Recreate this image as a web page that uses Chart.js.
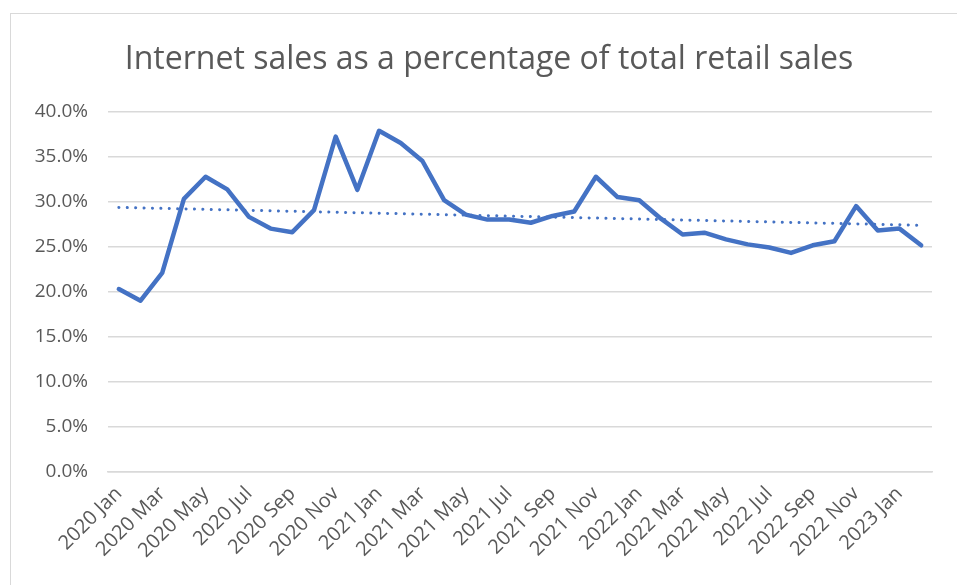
<!DOCTYPE html>
<html>
<head>
<meta charset="utf-8">
<script src="https://cdn.jsdelivr.net/npm/chart.js@4"></script>
<style>
  html, body { margin: 0; padding: 0; background: #fff; overflow: hidden; }
  #frame { position: absolute; left: 10px; top: 13px; width: 1000px; height: 700px; border: 1px solid #d9d9d9; }
  #wrap { position: absolute; left: 0; top: 0; width: 957px; height: 585px; }
</style>
</head>
<body>
<div id="frame"></div>
<div id="wrap"><canvas id="chartSales"></canvas></div>
<script>
// Months, Jan 2020 .. Feb 2023
const months = [
  '2020 Jan', '2020 Feb', '2020 Mar', '2020 Apr', '2020 May', '2020 Jun',
  '2020 Jul', '2020 Aug', '2020 Sep', '2020 Oct', '2020 Nov', '2020 Dec',
  '2021 Jan', '2021 Feb', '2021 Mar', '2021 Apr', '2021 May', '2021 Jun',
  '2021 Jul', '2021 Aug', '2021 Sep', '2021 Oct', '2021 Nov', '2021 Dec',
  '2022 Jan', '2022 Feb', '2022 Mar', '2022 Apr', '2022 May', '2022 Jun',
  '2022 Jul', '2022 Aug', '2022 Sep', '2022 Oct', '2022 Nov', '2022 Dec',
  '2023 Jan', '2023 Feb'
];

// Internet sales share of retail, percent
const internetShare = [
  20.3, 19.0, 22.1, 30.3, 32.75, 31.35, 28.3, 27.0, 26.6, 29.05, 37.2, 31.3,
  37.85, 36.5, 34.5, 30.15, 28.55, 28.0, 28.0, 27.65, 28.4, 28.9, 32.75, 30.5,
  30.15, 28.1, 26.35, 26.55, 25.8, 25.25, 24.9, 24.3, 25.15, 25.6, 29.5, 26.8,
  27.0, 25.15
];

const yTicks = [0, 5, 10, 15, 20, 25, 30, 35, 40];

// Linear trend line (least squares) from the data above
function linearTrend(values) {
  const n = values.length;
  let sx = 0, sy = 0, sxy = 0, sxx = 0;
  values.forEach((v, i) => { sx += i; sy += v; sxy += i * v; sxx += i * i; });
  const slope = (n * sxy - sx * sy) / (n * sxx - sx * sx);
  const icpt = (sy - slope * sx) / n;
  return values.map((_, i) => icpt + slope * i);
}

const textColor = '#595959';
const gridColor = '#d9d9d9';
const blue = '#4472C4';
const fontFamily = "'Open Sans', 'Noto Sans', sans-serif";

new Chart(document.getElementById('chartSales').getContext('2d'), {
  type: 'line',
  data: {
    labels: months,
    datasets: [{
      label: 'Internet share',
      data: internetShare,
      borderColor: blue,
      borderWidth: 4.5,
      pointRadius: 0,
      tension: 0,
      borderJoinStyle: 'round',
      borderCapStyle: 'round',
      fill: false
    }, {
      label: 'Trend',
      data: linearTrend(internetShare),
      borderColor: blue,
      borderWidth: 3,
      borderDash: [0.1, 8.3],
      borderCapStyle: 'round',
      pointRadius: 0,
      fill: false
    }]
  },
  options: {
    responsive: true,
    maintainAspectRatio: false,
    animation: false,
    layout: { padding: { left: 21, right: 0, top: 0, bottom: 0 } },
    plugins: {
      legend: { display: false },
      tooltip: { enabled: false },
      title: {
        display: true,
        text: 'Internet sales as a percentage of total retail sales',
        color: textColor,
        font: { family: fontFamily, size: 32, weight: 'normal' },
        padding: { top: 41, bottom: 32 }
      }
    },
    scales: {
      x: {
        offset: true,
        grid: { display: false, drawTicks: false },
        border: { display: true, color: gridColor, width: 1.5 },
        afterFit: (s) => { s.height = 113; },
        ticks: {
          autoSkip: false,
          maxRotation: 45,
          minRotation: 45,
          padding: 10,
          color: textColor,
          font: { family: fontFamily, size: 20 },
          callback: (v, i) => (i % 2 === 0 ? months[i] : '')
        }
      },
      y: {
        min: 0,
        max: 40,
        afterBuildTicks: (s) => { s.ticks = yTicks.map(v => ({ value: v })); },
        afterFit: (s) => { s.width = 87; },
        grid: { color: gridColor, lineWidth: 1.5, drawTicks: false },
        border: { display: false },
        ticks: {
          padding: 20,
          color: textColor,
          font: { family: fontFamily, size: 19 },
          callback: (v) => v.toFixed(1) + '%'
        }
      },
      // empty right-hand spacer so the plot ends where the reference does
      yRight: {
        position: 'right',
        display: true,
        grid: { display: false, drawTicks: false },
        border: { display: false },
        ticks: { display: false },
        afterFit: (s) => { s.width = 25; }
      }
    }
  }
});
</script>
</body>
</html>
